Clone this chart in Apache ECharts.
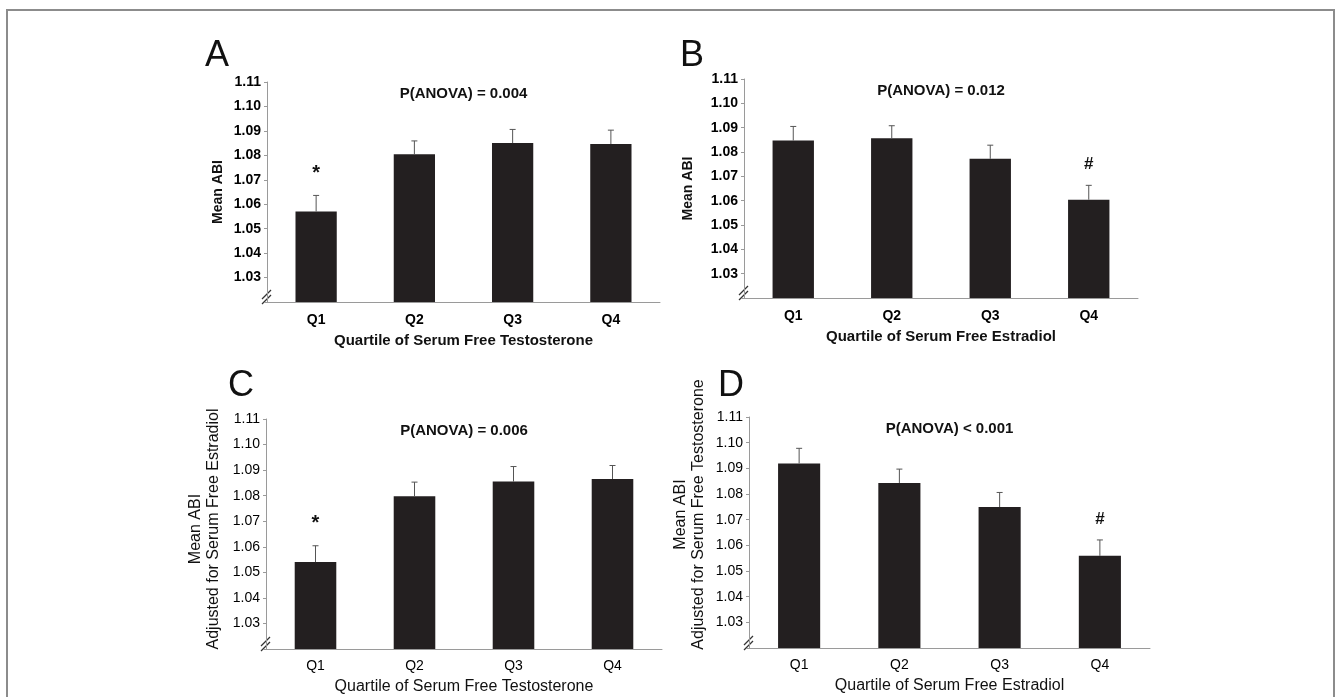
<!DOCTYPE html>
<html>
<head>
<meta charset="utf-8">
<script src="https://cdn.jsdelivr.net/npm/echarts@6/dist/echarts.min.js"></script>
<style>
  html, body { margin: 0; padding: 0; background: #fff; }
  #chart { width: 1340px; height: 697px; }
</style>
</head>
<body>
<div id="chart"></div>
<script>
// quartile categories shared by all four panels
const quartiles = ['Q1', 'Q2', 'Q3', 'Q4']

// panel A: free testosterone
const meanA = [1.057, 1.0804, 1.085, 1.0846]
const errTopA = [1.0636, 1.0859, 1.0906, 1.0903]
const markA = ['*', '', '', '']

// panel B: free estradiol
const meanB = [1.0847, 1.0857, 1.0772, 1.0604]
const errTopB = [1.0905, 1.0908, 1.0828, 1.0663]
const markB = ['', '', '', '#']

// panel C: free testosterone, adjusted for estradiol
const meanC = [1.054, 1.0798, 1.0855, 1.0865]
const errTopC = [1.0604, 1.0853, 1.0914, 1.0918]
const markC = ['*', '', '', '']

// panel D: free estradiol, adjusted for testosterone
const meanD = [1.0919, 1.0843, 1.0749, 1.0559]
const errTopD = [1.0978, 1.0897, 1.0806, 1.0621]
const markD = ['', '', '', '#']

const yMin = 1.02
const yMax = 1.11
const yStep = 0.01

const FONT = "'Liberation Sans', Arial, Helvetica, sans-serif"
const BAR = '#231f20'
const AXIS = '#9a9a9a'

// top row was printed heavier than the bottom row
const panels = [
  { letter: 'A', pText: 'P(ANOVA) = 0.004', mean: meanA, top: errTopA, mark: markA,
    xName: 'Quartile of Serum Free Testosterone', yName: 'Mean ABI',
    weight: 'bold', nameSize: 15, ySize: 14, catMargin: 11, xGap: 31, yShift: 0,
    grid: { left: 267, top: 82, width: 393, height: 220 }, yGap: 40, letterPos: [205, 56] },
  { letter: 'B', pText: 'P(ANOVA) = 0.012', mean: meanB, top: errTopB, mark: markB,
    xName: 'Quartile of Serum Free Estradiol', yName: 'Mean ABI',
    weight: 'bold', nameSize: 15, ySize: 14, catMargin: 11, xGap: 31, yShift: 0,
    grid: { left: 744, top: 79, width: 394, height: 219 }, yGap: 47, letterPos: [680, 56] },
  { letter: 'C', pText: 'P(ANOVA) = 0.006', mean: meanC, top: errTopC, mark: markC,
    xName: 'Quartile of Serum Free Testosterone', yName: 'Mean ABI\nAdjusted for Serum Free Estradiol',
    weight: 'normal', nameSize: 16, ySize: 16, catMargin: 10, xGap: 30, yShift: 10,
    grid: { left: 266, top: 419, width: 396, height: 230 }, yGap: 43, letterPos: [228, 386] },
  { letter: 'D', pText: 'P(ANOVA) < 0.001', mean: meanD, top: errTopD, mark: markD,
    xName: 'Quartile of Serum Free Estradiol', yName: 'Mean ABI\nAdjusted for Serum Free Testosterone',
    weight: 'normal', nameSize: 16, ySize: 16, catMargin: 10, xGap: 30, yShift: 36,
    grid: { left: 749, top: 417, width: 401, height: 231 }, yGap: 41, letterPos: [718, 386] }
]

const grids = []
const xAxes = []
const yAxes = []
const series = []
const graphics = []

// figure frame (bottom edge runs off the page)
graphics.push({
  type: 'rect', shape: { x: 7, y: 10, width: 1327, height: 720 },
  style: { fill: 'none', stroke: '#8c8c8c', lineWidth: 2 }, silent: true
})

panels.forEach((p, i) => {
  grids.push(Object.assign({ containLabel: false }, p.grid))

  xAxes.push({
    type: 'category', gridIndex: i, data: quartiles,
    axisLine: { lineStyle: { color: AXIS, width: 1 } },
    axisTick: { show: false },
    axisLabel: { color: '#000', fontFamily: FONT, fontWeight: p.weight, fontSize: 14, margin: p.catMargin },
    name: p.xName, nameLocation: 'middle', nameGap: p.xGap,
    nameTextStyle: { color: '#111', fontFamily: FONT, fontWeight: p.weight, fontSize: p.nameSize }
  })

  yAxes.push({
    type: 'value', gridIndex: i, min: yMin, max: yMax, interval: yStep,
    axisLine: { show: true, lineStyle: { color: AXIS, width: 1 } },
    axisTick: { show: true, length: 3, lineStyle: { color: AXIS } },
    splitLine: { show: false },
    axisLabel: {
      color: '#000', fontFamily: FONT, fontWeight: p.weight, fontSize: 14, margin: 6,
      formatter: v => (v < yMin + yStep / 2 ? '' : v.toFixed(2))
    },
    name: p.yName, nameLocation: 'middle', nameGap: p.yGap, nameRotate: 90,
    nameTextStyle: { color: '#111', fontFamily: FONT, fontWeight: p.weight, fontSize: p.ySize,
      lineHeight: 18, padding: [0, 0, 0, p.yShift] }
  })

  series.push({
    type: 'bar', xAxisIndex: i, yAxisIndex: i, data: p.mean,
    barWidth: '42%', itemStyle: { color: BAR }, silent: true
  })

  // upward error bars with cap, plus significance marks
  series.push({
    type: 'custom', xAxisIndex: i, yAxisIndex: i,
    data: p.mean.map((m, k) => [k, m, p.top[k]]),
    encode: { x: 0, y: [1, 2] },
    silent: true, z: 3,
    renderItem: (params, api) => {
      const k = api.value(0)
      const base = api.coord([k, api.value(1)])
      const tip = api.coord([k, api.value(2)])
      const children = [
        { type: 'line', shape: { x1: base[0], y1: base[1], x2: tip[0], y2: tip[1] },
          style: { stroke: '#555', lineWidth: 1 } },
        { type: 'line', shape: { x1: tip[0] - 3, y1: tip[1], x2: tip[0] + 3, y2: tip[1] },
          style: { stroke: '#555', lineWidth: 1 } }
      ]
      const m = p.mark[k]
      if (m) {
        children.push({
          type: 'text', x: tip[0], y: tip[1] - (m === '*' ? 22 : 21),
          style: { text: m, fill: '#111', font: 'bold ' + (m === '*' ? 20 : 17) + 'px ' + FONT,
            textAlign: 'center', textVerticalAlign: 'middle' }
        })
      }
      return { type: 'group', children }
    }
  })

  const g = p.grid
  const bx = g.left
  const by = g.top + g.height

  // panel letter
  graphics.push({
    type: 'text', x: p.letterPos[0], y: p.letterPos[1],
    style: { text: p.letter, fill: '#111', font: 'normal 36px ' + FONT, textVerticalAlign: 'middle' }
  })
  // ANOVA p value, centred over the plot
  graphics.push({
    type: 'text', x: bx + g.width / 2, y: g.top + 12,
    style: { text: p.pText, fill: '#111', font: 'bold 15px ' + FONT, textAlign: 'center', textVerticalAlign: 'middle' }
  })
  // axis break marks
  graphics.push({
    type: 'group', silent: true,
    children: [
      { type: 'line', shape: { x1: bx - 5, y1: by - 3, x2: bx + 4, y2: by - 12 }, style: { stroke: '#333', lineWidth: 1.3 } },
      { type: 'line', shape: { x1: bx - 5, y1: by + 2, x2: bx + 4, y2: by - 7 }, style: { stroke: '#333', lineWidth: 1.3 } }
    ]
  })
})

const chart = echarts.init(document.getElementById('chart'), null, { renderer: 'canvas' })
chart.setOption({
  backgroundColor: '#fff',
  animation: false,
  textStyle: { fontFamily: FONT },
  grid: grids,
  xAxis: xAxes,
  yAxis: yAxes,
  series: series,
  graphic: graphics
})
</script>
</body>
</html>
